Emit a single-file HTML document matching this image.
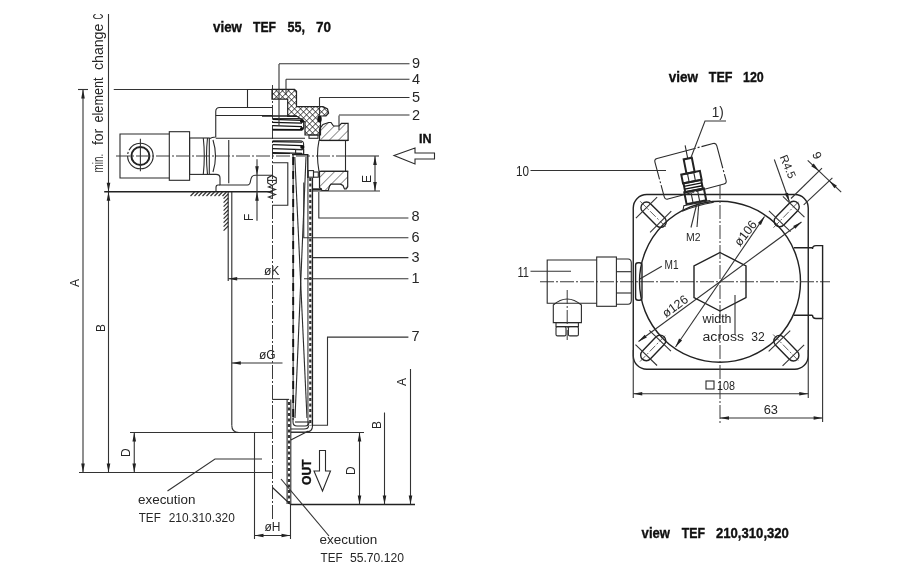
<!DOCTYPE html>
<html><head><meta charset="utf-8"><style>
html,body{margin:0;padding:0;background:#fff;overflow:hidden}
svg{display:block;will-change:transform}
text{font-family:"Liberation Sans",sans-serif;fill:#262626}
.tb{font-weight:bold;fill:#111;stroke:#111;stroke-width:0.35}
.l{stroke:#2a2a2a;stroke-width:1.1;fill:none}
.s{stroke:#111;stroke-width:1.3;fill:none}
.k{stroke:#222;stroke-width:1.4;fill:none}
.k2{stroke:#222;stroke-width:2;fill:none}
.d{stroke:#333;stroke-width:1.1;fill:none}
.dk{stroke:#111;stroke-width:1.9;fill:none;stroke-dasharray:8 6}
.gb{stroke:#777;stroke-width:1.6;fill:none}
.dh{stroke:#333;stroke-width:2.2;fill:none;stroke-dasharray:3 2.5}
.dd{stroke:#2a2a2a;stroke-width:1.1;fill:none;stroke-dasharray:40 2 2 2}
.c{stroke:#3a3a3a;stroke-width:1;fill:none;stroke-dasharray:14 2 2 2}
.c2{stroke:#444;stroke-width:0.8;fill:none;stroke-dasharray:8 2 2 2}
.f{fill:#111;stroke:none}
.ar{fill:#222;stroke:none}
.xh{stroke:#222;stroke-width:1.2;fill:url(#xh)}
.sh{stroke:#222;stroke-width:1.2;fill:url(#sh)}
</style></head><body>
<svg width="900" height="565" viewBox="0 0 900 565">
<defs>
<pattern id="xh" width="4.25" height="4.25" patternUnits="userSpaceOnUse" patternTransform="rotate(45)">
<line x1="0" y1="0" x2="0" y2="4.25" stroke="#1a1a1a" stroke-width="1.3"/><line x1="0" y1="0" x2="4.25" y2="0" stroke="#1a1a1a" stroke-width="1.3"/></pattern>
<pattern id="sh" width="6.5" height="6.5" patternUnits="userSpaceOnUse" patternTransform="rotate(45)">
<line x1="0" y1="0" x2="0" y2="6.5" stroke="#222" stroke-width="1"/></pattern>
</defs>
<rect width="900" height="565" fill="#fff"/>
<text x="213" y="32" font-size="14.2" class="tb" text-anchor="start" textLength="29" lengthAdjust="spacingAndGlyphs">view</text>
<text x="253" y="32" font-size="14.2" class="tb" text-anchor="start" textLength="23" lengthAdjust="spacingAndGlyphs">TEF</text>
<text x="287.5" y="32" font-size="14.2" class="tb" text-anchor="start" textLength="17.5" lengthAdjust="spacingAndGlyphs">55,</text>
<text x="316" y="32" font-size="14.2" class="tb" text-anchor="start" textLength="15" lengthAdjust="spacingAndGlyphs">70</text>
<text x="102.5" y="172.5" font-size="14" class="t" text-anchor="start" transform="rotate(-90 102.5 172.5)" textLength="18.75" lengthAdjust="spacingAndGlyphs">min.</text>
<text x="102.5" y="145" font-size="14" class="t" text-anchor="start" transform="rotate(-90 102.5 145)" textLength="16.25" lengthAdjust="spacingAndGlyphs">for</text>
<text x="102.5" y="122.5" font-size="14" class="t" text-anchor="start" transform="rotate(-90 102.5 122.5)" textLength="45.0" lengthAdjust="spacingAndGlyphs">element</text>
<text x="102.5" y="70" font-size="14" class="t" text-anchor="start" transform="rotate(-90 102.5 70)" textLength="46.25" lengthAdjust="spacingAndGlyphs">change</text>
<text x="102.5" y="19.5" font-size="14" class="t" text-anchor="start" transform="rotate(-90 102.5 19.5)" textLength="5.75" lengthAdjust="spacingAndGlyphs">C</text>
<line x1="83" y1="89.5" x2="83" y2="472.5" class="d"/>
<polygon points="83.00,89.50 84.80,98.50 81.20,98.50" class="ar"/>
<polygon points="83.00,472.50 81.20,463.50 84.80,463.50" class="ar"/>
<line x1="78" y1="89.5" x2="88" y2="89.5" class="d"/>
<text x="78.8" y="287" font-size="12" class="t" text-anchor="start" transform="rotate(-90 78.8 287)">A</text>
<line x1="108.5" y1="14" x2="108.5" y2="472.5" class="d"/>
<polygon points="108.50,191.80 106.70,182.80 110.30,182.80" class="ar"/>
<polygon points="108.50,191.80 110.30,200.80 106.70,200.80" class="ar"/>
<polygon points="108.50,472.50 106.70,463.50 110.30,463.50" class="ar"/>
<text x="104.5" y="332" font-size="12" class="t" text-anchor="start" transform="rotate(-90 104.5 332)">B</text>
<line x1="113.75" y1="89.5" x2="247.5" y2="89.5" class="d"/>
<line x1="104.2" y1="191.8" x2="272.5" y2="191.8" class="k"/>
<line x1="79" y1="472.5" x2="272.5" y2="472.5" class="d"/>
<line x1="134.25" y1="432.5" x2="134.25" y2="472.5" class="d"/>
<polygon points="134.25,432.50 136.05,441.50 132.45,441.50" class="ar"/>
<polygon points="134.25,472.50 132.45,463.50 136.05,463.50" class="ar"/>
<text x="129.5" y="457" font-size="12" class="t" text-anchor="start" transform="rotate(-90 129.5 457)">D</text>
<line x1="130" y1="432.5" x2="272.5" y2="432.5" class="d"/>
<polyline points="169.3,134 120,134 120,178 169.3,178" class="l"/>
<circle cx="140.4" cy="156" r="12.8" class="dd"/>
<circle cx="140.4" cy="156" r="9" class="k2"/>
<line x1="140.4" y1="138.7" x2="140.4" y2="171.3" class="d"/>
<rect x="169.3" y="131.7" width="20.3" height="48.6" class="l"/>
<rect x="189.6" y="138" width="19.7" height="36.4" class="l"/>
<path d="M203.3,138 q2,18 0,36.4" class="l"/>
<path d="M207.5,138 q-2,18 0,36.4" class="l"/>
<line x1="116" y1="156" x2="348" y2="156" class="c"/>
<path d="M209.3,138.7 Q212,137.3 215.75,137 L215.75,111.5 Q215.75,107.5 219.75,107.5 L272.5,107.5" class="l"/>
<line x1="215.75" y1="115.5" x2="272.5" y2="115.5" class="l"/>
<path d="M209.3,174.4 L216,174.4 Q220,174.4 220,178 L220,185 L247.5,185 Q250,185 250.5,181 Q251.3,175.2 255,175.2 L272.5,175.2" class="l"/>
<path d="M220,185 L218,185 Q216,185 216,187.5 L216,191.8" class="l"/>
<path d="M213,140 q5,16 0,32" class="l"/>
<line x1="228.75" y1="140" x2="228.75" y2="183.3" class="l"/>
<path d="M247.5,107.5 L247.5,89.5 L272.5,89.5" class="l"/>
<line x1="190.5" y1="196" x2="194.5" y2="192" class="l"/>
<line x1="194.5" y1="196" x2="198.5" y2="192" class="l"/>
<line x1="198.5" y1="196" x2="202.5" y2="192" class="l"/>
<line x1="202.5" y1="196" x2="206.5" y2="192" class="l"/>
<line x1="206.5" y1="196" x2="210.5" y2="192" class="l"/>
<line x1="210.5" y1="196" x2="214.5" y2="192" class="l"/>
<line x1="214.5" y1="196" x2="218.5" y2="192" class="l"/>
<line x1="218.5" y1="196" x2="222.5" y2="192" class="l"/>
<line x1="222.5" y1="196" x2="226.5" y2="192" class="l"/>
<line x1="228.2" y1="191.8" x2="228.2" y2="281" class="l"/>
<line x1="231.8" y1="191.8" x2="231.8" y2="425.5" class="l"/>
<line x1="228.2" y1="194" x2="223.6" y2="198.6" class="l"/>
<line x1="228.2" y1="198" x2="223.6" y2="202.6" class="l"/>
<line x1="228.2" y1="202" x2="223.6" y2="206.6" class="l"/>
<line x1="228.2" y1="206" x2="223.6" y2="210.6" class="l"/>
<line x1="228.2" y1="210" x2="223.6" y2="214.6" class="l"/>
<line x1="228.2" y1="214" x2="223.6" y2="218.6" class="l"/>
<line x1="228.2" y1="218" x2="223.6" y2="222.6" class="l"/>
<line x1="228.2" y1="222" x2="223.6" y2="226.6" class="l"/>
<line x1="228.2" y1="226" x2="223.6" y2="230.6" class="l"/>
<path d="M231.8,425.5 Q231.8,432.5 238.8,432.5" class="l"/>
<line x1="257" y1="159.2" x2="257" y2="220.8" class="d"/>
<polygon points="257.00,175.20 255.20,166.20 258.80,166.20" class="ar"/>
<polygon points="257.00,191.80 258.80,200.80 255.20,200.80" class="ar"/>
<text x="252.5" y="221" font-size="12" class="t" text-anchor="start" transform="rotate(-90 252.5 221)">F</text>
<line x1="228.2" y1="278.75" x2="280" y2="278.75" class="d"/>
<polygon points="228.20,278.75 237.20,276.95 237.20,280.55" class="ar"/>
<text x="264" y="274.5" font-size="12" class="t" text-anchor="start">øK</text>
<line x1="231.8" y1="363" x2="282.5" y2="363" class="d"/>
<polygon points="231.80,363.00 240.80,361.20 240.80,364.80" class="ar"/>
<text x="259" y="358.75" font-size="12" class="t" text-anchor="start">øG</text>
<line x1="272.5" y1="85" x2="272.5" y2="520" class="c"/>
<polygon points="272,175.4 276.3,177.9 276.3,182.9 272,185.4 267.7,182.9 267.7,177.9" class="l"/>
<line x1="267.7" y1="180.4" x2="276.3" y2="180.4" class="l"/>
<polyline points="272,185.5 268.5,187 275.5,189.5 268.5,192 275.5,194.5 268.5,197 272,198.5" class="l"/>
<path d="M272.5,153.5 L290,153.5" class="l"/>
<path d="M272.5,162.7 L287.8,162.7 L287.8,205.2 L272.5,205.2" class="l"/>
<polygon points="272,89.3 294.5,89.3 296.5,91.3 296.5,106.6 323,106.6 327.5,109 328.6,113 326,116 320.5,116 320.5,135 305,135 305,122 297.5,116.5 287.7,116.5 287.7,99.2 272,99.2" class="xh"/>
<path d="M272.5,118.6 L300,118.6 Q303.6,118.6 303.6,122 L303.6,127 Q303.6,130.1 300,130.1 L272.5,130.1" class="l"/>
<line x1="272.5" y1="119.4" x2="302" y2="120.4" class="s"/>
<line x1="272.5" y1="122.4" x2="302" y2="123.2" class="s"/>
<line x1="272.5" y1="125.6" x2="302" y2="126.6" class="s"/>
<line x1="272.5" y1="129.3" x2="302" y2="129.6" class="s"/>
<line x1="272.5" y1="141.6" x2="302" y2="142.2" class="s"/>
<line x1="272.5" y1="144.6" x2="302" y2="145.6" class="s"/>
<line x1="272.5" y1="148.6" x2="302" y2="149.6" class="s"/>
<line x1="272.5" y1="152.6" x2="302" y2="153.3" class="s"/>
<path d="M272.5,140.7 L300,140.7 Q303.6,140.7 303.6,144 L303.6,154" class="l"/>
<circle cx="301.8" cy="121.3" r="1.8" class="f"/>
<circle cx="301.8" cy="128.8" r="1.8" class="f"/>
<circle cx="302.3" cy="147" r="2.1" class="f"/>
<line x1="262" y1="116" x2="297" y2="116" class="k"/>
<rect x="295.6" y="149.6" width="8" height="4.4" class="l"/>
<line x1="215.75" y1="138.3" x2="305" y2="138.3" class="l"/>
<rect x="309" y="135" width="9" height="3.3" class="l"/>
<ellipse cx="319.5" cy="119" rx="2.2" ry="3.5" class="f"/>
<polygon points="319.5,129 323,124.5 328.6,122.5 331,122.5 333.5,126 339,126 341.5,123.3 348.1,123.3 348.1,140.5 319.5,140.5" class="sh"/>
<polygon points="319.5,171.3 347.7,171.3 347.7,186.8 346.2,189 344.5,189 343,185.5 340.5,184.2 331,184.2 329.5,186 328.3,190.5 322,190.5 319.5,187.5" class="sh"/>
<line x1="320.7" y1="140.4" x2="348.2" y2="140.4" class="k"/>
<line x1="320.7" y1="171.3" x2="348.2" y2="171.3" class="l"/>
<path d="M319,140.4 q-3,15 0,31" class="l"/>
<line x1="345.5" y1="140.4" x2="345.5" y2="171.3" class="l"/>
<line x1="375" y1="156" x2="375" y2="191" class="d"/>
<polygon points="375.00,156.00 376.80,165.00 373.20,165.00" class="ar"/>
<polygon points="375.00,191.00 373.20,182.00 376.80,182.00" class="ar"/>
<line x1="312.4" y1="191" x2="380" y2="191" class="d"/>
<line x1="348" y1="156" x2="379" y2="156" class="d"/>
<text x="371" y="183" font-size="12" class="t" text-anchor="start" transform="rotate(-90 371 183)">E</text>
<polygon points="394,155.5 415,148 415,153 434.5,153 434.5,159 415,159 415,164" class="l"/>
<text x="419" y="143" font-size="12.5" class="tb" text-anchor="start">IN</text>
<polyline points="279,64 279,125.5" class="d"/>
<line x1="279" y1="63.75" x2="409.5" y2="63.75" class="d"/>
<text x="412" y="67.5" font-size="14.5" class="t" text-anchor="start">9</text>
<polyline points="286,79.25 286,95" class="d"/>
<line x1="286" y1="79.25" x2="409.5" y2="79.25" class="d"/>
<text x="412" y="83.5" font-size="14.5" class="t" text-anchor="start">4</text>
<polyline points="319.5,97.5 319.5,116" class="d"/>
<line x1="319.5" y1="97.5" x2="409.5" y2="97.5" class="d"/>
<text x="412" y="101.5" font-size="14.5" class="t" text-anchor="start">5</text>
<polyline points="339,115.5 339,130" class="d"/>
<line x1="339" y1="115" x2="409.5" y2="115" class="d"/>
<text x="412" y="119.5" font-size="14.5" class="t" text-anchor="start">2</text>
<line x1="293.2" y1="155" x2="293.2" y2="420" class="gb"/>
<line x1="293.2" y1="157" x2="293.2" y2="418" class="dk"/>
<line x1="294.8" y1="157" x2="307" y2="418" class="l"/>
<line x1="306" y1="157" x2="295" y2="418" class="l"/>
<path d="M292,154.6 L307.8,154.6 L307.8,178" class="k"/>
<line x1="307.9" y1="178" x2="307.9" y2="426" class="gb"/>
<line x1="312.4" y1="178" x2="312.4" y2="426" class="k"/>
<line x1="310.3" y1="178" x2="310.3" y2="426" class="dh"/>
<line x1="313" y1="189.3" x2="322" y2="189.3" class="k2"/>
<rect x="308.2" y="170.6" width="5.3" height="6.6" class="l"/>
<rect x="313.5" y="172" width="4.8" height="5.2" class="l"/>
<path d="M293,418 L293,422 Q293,426 297,426 L305,426 Q309,426 309,422" class="l"/>
<line x1="295" y1="422" x2="309" y2="422" class="l"/>
<path d="M312.5,426 Q312.5,432 306,432 L290.8,432" class="l"/>
<path d="M308.5,426 Q308.5,429 304,429 L290.8,429" class="l"/>
<line x1="272.2" y1="399.4" x2="289.2" y2="399.4" class="l"/>
<line x1="287.1" y1="399.4" x2="287.1" y2="504" class="l"/>
<line x1="290.8" y1="399.4" x2="290.8" y2="504" class="l"/>
<line x1="289" y1="402" x2="289" y2="504" class="dh"/>
<line x1="290.8" y1="440" x2="308.4" y2="431" class="l"/>
<path d="M272.5,487.5 L290,504" class="l"/>
<line x1="272.5" y1="487.5" x2="272.5" y2="487.5" class="l"/>
<polyline points="318.8,192 318.8,218 408.4,218" class="d"/>
<text x="411.6" y="221" font-size="14.5" class="t" text-anchor="start">8</text>
<polyline points="303.75,182.5 303.75,237.7 408.4,237.7" class="d"/>
<text x="411.6" y="241.5" font-size="14.5" class="t" text-anchor="start">6</text>
<line x1="312.5" y1="257.6" x2="408.4" y2="257.6" class="d"/>
<text x="411.6" y="262" font-size="14.5" class="t" text-anchor="start">3</text>
<line x1="304" y1="278.8" x2="408.4" y2="278.8" class="d"/>
<text x="411.6" y="282.8" font-size="14.5" class="t" text-anchor="start">1</text>
<polyline points="313,425.2 327.5,425.2 327.5,337.1 408.4,337.1" class="d"/>
<text x="411.6" y="341" font-size="14.5" class="t" text-anchor="start">7</text>
<line x1="290" y1="504.5" x2="415" y2="504.5" class="k"/>
<line x1="291" y1="432.5" x2="364" y2="432.5" class="d"/>
<line x1="359.5" y1="432.5" x2="359.5" y2="504.5" class="d"/>
<polygon points="359.50,432.50 361.30,441.50 357.70,441.50" class="ar"/>
<polygon points="359.50,504.50 357.70,495.50 361.30,495.50" class="ar"/>
<text x="355" y="475" font-size="12" class="t" text-anchor="start" transform="rotate(-90 355 475)">D</text>
<line x1="384.5" y1="412.5" x2="384.5" y2="504.5" class="d"/>
<polygon points="384.50,504.50 382.70,495.50 386.30,495.50" class="ar"/>
<text x="381" y="429" font-size="12" class="t" text-anchor="start" transform="rotate(-90 381 429)">B</text>
<line x1="410.5" y1="369" x2="410.5" y2="504.5" class="d"/>
<polygon points="410.50,504.50 408.70,495.50 412.30,495.50" class="ar"/>
<text x="406" y="386" font-size="12" class="t" text-anchor="start" transform="rotate(-90 406 386)">A</text>
<text x="310.5" y="485" font-size="12.5" class="tb" text-anchor="start" transform="rotate(-90 310.5 485)" textLength="25.5" lengthAdjust="spacingAndGlyphs">OUT</text>
<polygon points="319.5,450.5 325.5,450.5 325.5,471 330.5,471 322.5,491 314,471 319.5,471" class="l"/>
<line x1="254.5" y1="432.5" x2="254.5" y2="539" class="d"/>
<line x1="290.5" y1="504" x2="290.5" y2="539" class="d"/>
<line x1="254.5" y1="535.5" x2="290.5" y2="535.5" class="d"/>
<polygon points="254.50,535.50 263.50,533.70 263.50,537.30" class="ar"/>
<polygon points="290.50,535.50 281.50,537.30 281.50,533.70" class="ar"/>
<text x="264.5" y="530.5" font-size="12" class="t" text-anchor="start">øH</text>
<polyline points="262,459 215,459 167.5,491" class="d"/>
<line x1="281" y1="479" x2="329" y2="536" class="d"/>
<text x="138" y="504" font-size="13" class="t" text-anchor="start" textLength="57.5" lengthAdjust="spacingAndGlyphs">execution</text>
<text x="138.75" y="522" font-size="13" class="t" text-anchor="start" textLength="22" lengthAdjust="spacingAndGlyphs">TEF</text>
<text x="168.75" y="522" font-size="13" class="t" text-anchor="start" textLength="66" lengthAdjust="spacingAndGlyphs">210.310.320</text>
<text x="319.4" y="544" font-size="13" class="t" text-anchor="start" textLength="57.8" lengthAdjust="spacingAndGlyphs">execution</text>
<text x="320.6" y="561.7" font-size="13" class="t" text-anchor="start" textLength="22" lengthAdjust="spacingAndGlyphs">TEF</text>
<text x="350" y="561.7" font-size="13" class="t" text-anchor="start" textLength="54" lengthAdjust="spacingAndGlyphs">55.70.120</text>
<text x="668.75" y="82" font-size="14.2" class="tb" text-anchor="start" textLength="29.25" lengthAdjust="spacingAndGlyphs">view</text>
<text x="708.75" y="82" font-size="14.2" class="tb" text-anchor="start" textLength="23.75" lengthAdjust="spacingAndGlyphs">TEF</text>
<text x="743" y="82" font-size="14.2" class="tb" text-anchor="start" textLength="20.75" lengthAdjust="spacingAndGlyphs">120</text>
<text x="641.6" y="537.8" font-size="14.2" class="tb" text-anchor="start" textLength="28.4" lengthAdjust="spacingAndGlyphs">view</text>
<text x="681.8" y="537.8" font-size="14.2" class="tb" text-anchor="start" textLength="23.3" lengthAdjust="spacingAndGlyphs">TEF</text>
<text x="716" y="537.8" font-size="14.2" class="tb" text-anchor="start" textLength="72.9" lengthAdjust="spacingAndGlyphs">210,310,320</text>
<rect x="633.25" y="194.5" width="175" height="174.7" rx="13.5" class="k"/>
<circle cx="720" cy="281.75" r="80.5" class="k" fill="#fff"/>
<line x1="540" y1="281.75" x2="830" y2="281.75" class="c"/>
<line x1="720" y1="185" x2="720" y2="425" class="c"/>
<polygon points="720,252.5 746,266 746,297.5 720,311 694,297.5 694,266" class="k"/>
<g transform="translate(653.6 214.7) rotate(45)"><rect x="-15.6" y="-5.6" width="31.2" height="11.2" rx="5.6" class="k" fill="#fff"/><line x1="-19" y1="0" x2="19" y2="0" class="c2"/><line x1="-10.0" y1="-15" x2="-10.0" y2="15" class="d"/><line x1="10.0" y1="-15" x2="10.0" y2="15" class="d"/></g>
<g transform="translate(786.7 214) rotate(-46)"><rect x="-15.6" y="-5.6" width="31.2" height="11.2" rx="5.6" class="k" fill="#fff"/><line x1="-19" y1="0" x2="19" y2="0" class="c2"/><line x1="-10.0" y1="-15" x2="-10.0" y2="15" class="d"/><line x1="10.0" y1="-15" x2="10.0" y2="15" class="d"/></g>
<g transform="translate(653.2 347.9) rotate(-46)"><rect x="-15.6" y="-5.6" width="31.2" height="11.2" rx="5.6" class="k" fill="#fff"/><line x1="-19" y1="0" x2="19" y2="0" class="c2"/><line x1="-10.0" y1="-15" x2="-10.0" y2="15" class="d"/><line x1="10.0" y1="-15" x2="10.0" y2="15" class="d"/></g>
<g transform="translate(786.4 348.2) rotate(46)"><rect x="-15.6" y="-5.6" width="31.2" height="11.2" rx="5.6" class="k" fill="#fff"/><line x1="-19" y1="0" x2="19" y2="0" class="c2"/><line x1="-10.0" y1="-15" x2="-10.0" y2="15" class="d"/><line x1="10.0" y1="-15" x2="10.0" y2="15" class="d"/></g>
<path d="M793.9,247.7 L812.5,247.7 M793.9,315.3 L812.5,315.3" class="k"/>
<path d="M812.5,249 Q812.5,245.6 816,245.6 L822.6,245.6 L822.6,318.5 L816,318.5 Q812.5,318.5 812.5,315" class="k"/>
<rect x="635.6" y="262.7" width="6.4" height="37.5" rx="2.5" class="k" fill="#fff"/>
<polyline points="596.7,260 547.2,260 547.2,303.3 596.7,303.3" class="l"/>
<rect x="596.7" y="257" width="19.7" height="49.3" class="l"/>
<path d="M616.4,259 L628,259 Q631.3,259 631.3,263 L631.3,300.3 Q631.3,304.3 628,304.3 L616.4,304.3" class="l"/>
<line x1="616.4" y1="271.7" x2="631.3" y2="271.7" class="l"/>
<line x1="616.4" y1="293" x2="631.3" y2="293" class="l"/>
<path d="M553.3,322.6 L553.3,305 Q567,293 581.4,305 L581.4,322.6 Z" class="l"/>
<rect x="556" y="322.6" width="22.4" height="4" class="l"/>
<rect x="556" y="326.6" width="10" height="9.3" rx="1.5" class="l"/>
<rect x="568.4" y="326.6" width="10" height="9.3" rx="1.5" class="l"/>
<line x1="567.2" y1="290" x2="567.2" y2="340" class="c"/>
<line x1="530.5" y1="271.3" x2="571" y2="271.3" class="d"/>
<text x="517.5" y="277.2" font-size="14" class="t" text-anchor="start" textLength="11.5" lengthAdjust="spacingAndGlyphs">11</text>
<g transform="rotate(-15 690.5 171.3)"><rect x="658.5" y="150.3" width="64" height="42" rx="3" class="dd"/></g>
<line x1="530.5" y1="170.5" x2="666" y2="170.5" class="d"/>
<text x="516" y="175.5" font-size="14" class="t" text-anchor="start" textLength="13" lengthAdjust="spacingAndGlyphs">10</text>
<g transform="translate(696.4 202.2) rotate(-11.2)"><line x1="0" y1="-58" x2="0" y2="-44.5" class="l"/><rect x="-4.15" y="-44.5" width="8.3" height="14.5" class="k2" fill="#fff"/><rect x="-9.5" y="-30" width="19" height="9" class="k2" fill="#fff"/><line x1="-3.2" y1="-30" x2="-3.2" y2="-21" class="l"/><line x1="3.2" y1="-30" x2="3.2" y2="-21" class="l"/><rect x="-9" y="-21" width="18" height="9" class="k2" fill="#fff"/><line x1="-9" y1="-18" x2="9" y2="-18" class="s"/><line x1="-9" y1="-15" x2="9" y2="-15" class="s"/><rect x="-10" y="-12" width="20" height="12" class="k2" fill="#fff"/><line x1="-3.4" y1="-12" x2="-3.4" y2="0" class="l"/><line x1="3.4" y1="-12" x2="3.4" y2="0" class="l"/><path d="M-15,6 L-13,1 L13,1 L16,3.5 Q0,3 -15,6 Z" class="l"/></g>
<polyline points="726,121 705,121 691,157.5" class="d"/>
<text x="711.75" y="117" font-size="14" class="t" text-anchor="start" textLength="12" lengthAdjust="spacingAndGlyphs">1)</text>
<line x1="691" y1="227.5" x2="697.5" y2="201" class="d"/>
<line x1="697" y1="227" x2="699" y2="201" class="d"/>
<text x="686" y="241.3" font-size="11.5" class="t" text-anchor="start" textLength="14.5" lengthAdjust="spacingAndGlyphs">M2</text>
<line x1="661.8" y1="266.2" x2="639.8" y2="279" class="d"/>
<text x="664.5" y="269.2" font-size="12" class="t" text-anchor="start" textLength="14" lengthAdjust="spacingAndGlyphs">M1</text>
<line x1="638.5" y1="341.5" x2="801.5" y2="222" class="d"/>
<polygon points="638.50,341.50 644.69,334.72 646.82,337.62" class="ar"/>
<polygon points="801.50,222.00 795.31,228.78 793.18,225.88" class="ar"/>
<line x1="675.5" y1="347" x2="764.5" y2="216.5" class="d"/>
<polygon points="675.50,347.00 679.08,338.55 682.06,340.58" class="ar"/>
<polygon points="764.50,216.50 760.92,224.95 757.94,222.92" class="ar"/>
<text x="740" y="247" font-size="12.5" class="t" text-anchor="start" transform="rotate(-52 740 247)">ø106</text>
<text x="666" y="318" font-size="12.5" class="t" text-anchor="start" transform="rotate(-36 666 318)">ø126</text>
<text x="702.5" y="323" font-size="12" class="t" text-anchor="start" textLength="29" lengthAdjust="spacingAndGlyphs">width</text>
<text x="702.5" y="341.25" font-size="12" class="t" text-anchor="start" textLength="41.5" lengthAdjust="spacingAndGlyphs">across</text>
<text x="751.25" y="341.25" font-size="12" class="t" text-anchor="start" textLength="13.5" lengthAdjust="spacingAndGlyphs">32</text>
<line x1="735" y1="295" x2="735" y2="335" class="d"/>
<line x1="633.25" y1="350" x2="633.25" y2="398" class="d"/>
<line x1="808.25" y1="350" x2="808.25" y2="398" class="d"/>
<line x1="633.25" y1="393.8" x2="808.25" y2="393.8" class="d"/>
<polygon points="633.25,393.80 642.25,392.00 642.25,395.60" class="ar"/>
<polygon points="808.25,393.80 799.25,395.60 799.25,392.00" class="ar"/>
<rect x="706" y="381" width="8" height="8" class="l"/>
<text x="717" y="389.5" font-size="12.5" class="t" text-anchor="start" textLength="18" lengthAdjust="spacingAndGlyphs">108</text>
<line x1="822.6" y1="318" x2="822.6" y2="422" class="d"/>
<line x1="720" y1="418" x2="822.6" y2="418" class="d"/>
<polygon points="720.00,418.00 729.00,416.20 729.00,419.80" class="ar"/>
<polygon points="822.60,418.00 813.60,419.80 813.60,416.20" class="ar"/>
<text x="763.75" y="413.75" font-size="12.5" class="t" text-anchor="start" textLength="14.25" lengthAdjust="spacingAndGlyphs">63</text>
<line x1="774.3" y1="159.5" x2="789.4" y2="201.7" class="d"/>
<polygon points="789.40,201.70 784.63,193.86 788.01,192.63" class="ar"/>
<text x="779.5" y="157" font-size="11.5" class="t" text-anchor="start" transform="rotate(67 779.5 157)">R4.5</text>
<line x1="807.7" y1="160.3" x2="841.2" y2="192.2" class="d"/>
<polygon points="819.00,171.10 811.24,166.20 813.72,163.59" class="ar"/>
<polygon points="829.20,180.80 836.96,185.70 834.48,188.31" class="ar"/>
<line x1="791" y1="198.5" x2="822" y2="168.2" class="d"/>
<line x1="803.7" y1="204.9" x2="832.4" y2="177.8" class="d"/>
<text x="812" y="154" font-size="12" class="t" text-anchor="start" transform="rotate(67 812 154)">9</text>
</svg></body></html>
